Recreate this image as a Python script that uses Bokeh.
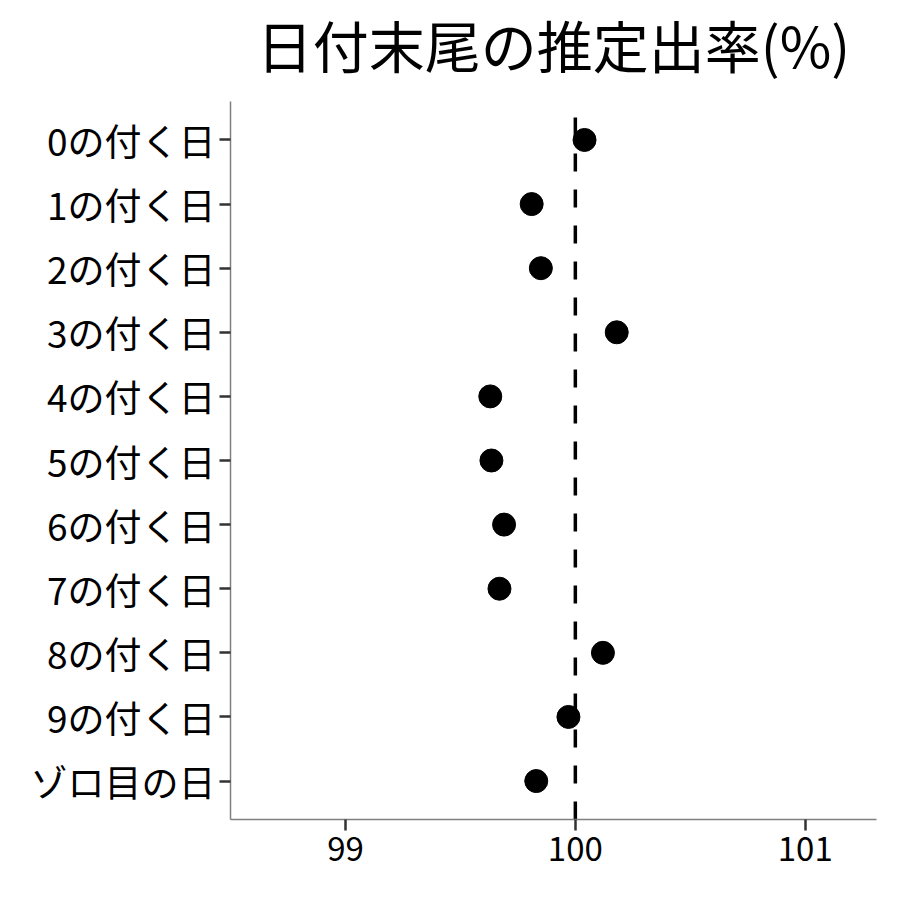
from bokeh.plotting import figure
from bokeh.models import FactorRange, Range1d, FixedTicker, ColumnDataSource
from bokeh.embed import file_html
from bokeh.resources import INLINE

title_text = "日付末尾の推定出率(%)"
categories = ["0の付く日", "1の付く日", "2の付く日", "3の付く日", "4の付く日",
              "5の付く日", "6の付く日", "7の付く日", "8の付く日", "9の付く日", "ゾロ目の日"]
payout = [100.04, 99.81, 99.85, 100.18, 99.63, 99.635, 99.69, 99.67, 100.12, 99.97, 99.83]
reference_value = 100
x_ticks = [99, 100, 101]

FONT = "Noto Sans CJK JP"

p = figure(width=892, height=892, output_backend="svg", toolbar_location=None,
           y_range=FactorRange(factors=list(reversed(categories)), range_padding=0.1,
                               range_padding_units="absolute"),
           x_range=Range1d(98.5, 101.31))
p.frame_width = 646
p.frame_height = 718
p.min_border_left = 230
p.min_border_right = 16
p.min_border_top = 101
p.min_border_bottom = 73

p.title.text = title_text
p.title.align = "center"
p.title.standoff = 0
p.title.padding = dict(top=0, right=0, bottom=18, left=0)
p.title.text_font = FONT
p.title.text_font_size = "56px"
p.title.text_font_style = "normal"
p.title.text_color = "black"

p.outline_line_color = None
p.xgrid.visible = False
p.ygrid.visible = False
p.background_fill_color = "white"
p.border_fill_color = "white"

for ax in (p.xaxis[0], p.yaxis[0]):
    ax.axis_line_color = "#7f7f7f"
    ax.axis_line_width = 1.5
    ax.major_tick_line_color = "#333333"
    ax.major_tick_line_width = 2.5
    ax.major_tick_in = 0
    ax.major_tick_out = 11
    ax.minor_tick_line_color = None
    ax.major_label_text_font = FONT
    ax.major_label_text_color = "black"
    ax.major_label_standoff = 4

p.yaxis.major_label_text_font_size = "37px"
p.xaxis.major_label_text_font_size = "33px"
p.xaxis.ticker = FixedTicker(ticks=x_ticks)
p.xaxis.major_label_standoff = 6

line_src = ColumnDataSource(dict(x0=[reference_value], x1=[reference_value],
                                 y0=[(categories[-1], -0.6)], y1=[(categories[0], 0.6)]))
p.segment(x0="x0", y0="y0", x1="x1", y1="y1", source=line_src,
          line_color="black", line_width=3.5, line_dash="18 18")

src = ColumnDataSource(dict(x=payout, y=categories))
p.scatter(x="x", y="y", source=src, size=23, fill_color="black", line_color="black")

open("out.html", "w").write(file_html(p, INLINE))
